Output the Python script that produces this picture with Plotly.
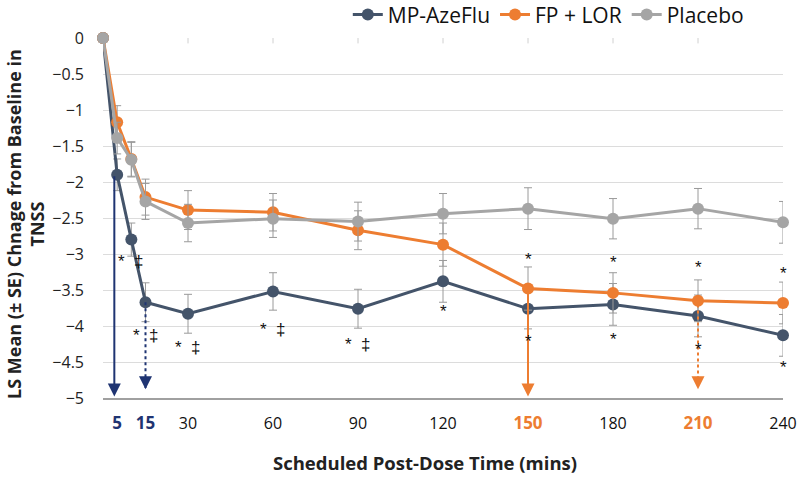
import plotly.graph_objects as go

# ---- data ----
times = [0, 5, 10, 15, 30, 60, 90, 120, 150, 180, 210, 240]
mp_azeflu = [0, -1.90, -2.80, -3.67, -3.83, -3.52, -3.76, -3.38, -3.76, -3.70, -3.86, -4.13]
mp_azeflu_se = [0, 0.22, 0.23, 0.27, 0.27, 0.26, 0.27, 0.29, 0.28, 0.29, 0.29, 0.29]
fp_lor = [0, -1.17, -1.68, -2.21, -2.39, -2.42, -2.67, -2.87, -3.48, -3.54, -3.65, -3.68]
fp_lor_se = [0, 0.23, 0.24, 0.25, 0.27, 0.26, 0.27, 0.30, 0.30, 0.28, 0.29, 0.29]
placebo = [0, -1.39, -1.69, -2.27, -2.57, -2.51, -2.55, -2.44, -2.37, -2.51, -2.37, -2.56]
placebo_se = [0, 0.22, 0.24, 0.25, 0.26, 0.26, 0.27, 0.28, 0.29, 0.28, 0.28, 0.29]

tick_vals = [5, 15, 30, 60, 90, 120, 150, 180, 210, 240]
tick_text = ["<b><span style='color:#1F3472;font-size:17px'>5</span></b>",
             "<b><span style='color:#1F3472;font-size:17px'>15</span></b>",
             "30", "60", "90", "120",
             "<b><span style='color:#ED7D31;font-size:17px'>150</span></b>",
             "180",
             "<b><span style='color:#ED7D31;font-size:17px'>210</span></b>",
             "240"]
y_ticks = [0, -0.5, -1, -1.5, -2, -2.5, -3, -3.5, -4, -4.5, -5]

# significance labels: (time, y, text)
sig_time = [10, 15, 30, 60, 90, 120, 150, 150, 180, 180, 210, 210, 240, 240]
sig_y = [-3.10, -4.13, -4.30, -4.05, -4.25, -3.80, -3.08, -4.21, -3.12, -4.19, -3.19, -4.32, -3.27, -4.58]
sig_text = ["*  ‡", "*  ‡", "*  ‡", "*  ‡", "*  ‡", "*", "*", "*", "*", "*", "*", "*", "*", "*"]

NAVY = "#44546A"
ORANGE = "#ED7D31"
GRAY = "#A5A5A5"
ARROW_NAVY = "#1F3472"
FONT = "Open Sans"
SYMF = "Liberation Sans"

fig = go.Figure()

def add_series(name, y, se, color):
    fig.add_trace(go.Scatter(
        x=times, y=y, name=name, mode="lines+markers",
        line=dict(color=color, width=3),
        marker=dict(color=color, size=12),
        error_y=dict(type="data", array=se, color="#9A9A9A", thickness=1, width=4),
        cliponaxis=False,
    ))

add_series("MP-AzeFlu", mp_azeflu, mp_azeflu_se, NAVY)
add_series("FP + LOR", fp_lor, fp_lor_se, ORANGE)
add_series("Placebo", placebo, placebo_se, GRAY)

annotations = []
shapes = []

# arrows: (time, start value, colour, dotted)
arrow_specs = [
    (4, mp_azeflu[1], ARROW_NAVY, False),
    (times[3], mp_azeflu[3], ARROW_NAVY, True),
    (times[8], fp_lor[8], ORANGE, False),
    (times[10], fp_lor[10] - 0.05, ORANGE, True),
]
for t, y0, col, dotted in arrow_specs:
    tip = -4.98
    if dotted:
        shapes.append(dict(type="line", xref="x", yref="y", x0=t, x1=t, y0=y0, y1=tip + 0.12,
                           line=dict(color=col, width=2, dash="dot")))
        annotations.append(dict(x=t, y=tip + 0.1, xref="x", yref="y", ax=0, ay=-14,
                                text="", showarrow=True, arrowhead=2, arrowsize=1.3,
                                arrowwidth=2, arrowcolor=col, standoff=0))
    else:
        annotations.append(dict(x=t, y=tip, xref="x", yref="y", ax=t, ay=y0,
                                axref="x", ayref="y", text="", showarrow=True,
                                arrowhead=2, arrowsize=1.3, arrowwidth=2,
                                arrowcolor=col, standoff=0))

for t, y, txt in zip(sig_time, sig_y, sig_text):
    annotations.append(dict(x=t, y=y, xref="x", yref="y", text=txt, showarrow=False,
                            font=dict(family=SYMF, size=17, color="#111")))
annotations.append(dict(x=-2.4, y=-1.76, xref="x", yref="y", text="†  ‡", showarrow=False,
                        font=dict(family=SYMF, size=16, color="#111")))

# axis titles
annotations.append(dict(x=0.474, y=-0.178, xref="paper", yref="paper",
                        text="<b>Scheduled Post-Dose Time (mins)</b>", showarrow=False,
                        xanchor="center", yanchor="middle",
                        font=dict(family=FONT, size=18.5, color="#222")))
annotations.append(dict(x=-0.115, y=0.483, xref="paper", yref="paper",
                        text="<b>LS Mean (± SE) Chnage from Baseline in<br>TNSS</b>",
                        showarrow=False, textangle=-90, xanchor="center", yanchor="middle",
                        font=dict(family=FONT, size=18, color="#222")))

# small tick marks along the zero line
for t in tick_vals[2:-1]:
    shapes.append(dict(type="line", xref="x", yref="paper", x0=t, x1=t, y0=1, y1=0.985,
                       line=dict(color="#D0D0D0", width=1)))

fig.update_layout(
    width=797, height=478,
    margin=dict(l=103, r=14, t=38, b=80, autoexpand=False),
    plot_bgcolor="white", paper_bgcolor="white",
    font=dict(family=FONT, size=16, color="#222"),
    showlegend=True,
    legend=dict(orientation="h", x=0.36, y=1.064, xanchor="left", yanchor="middle",
                font=dict(family=FONT, size=21, color="#111"), itemwidth=30,
                bgcolor="rgba(0,0,0,0)", tracegroupgap=0),
    annotations=annotations,
    shapes=shapes,
)
fig.update_xaxes(range=[0, 240], tickvals=tick_vals, ticktext=tick_text,
                 showgrid=False, zeroline=False, showline=True, linecolor="#A0A0A0",
                 linewidth=2, ticks="", ticklabelstandoff=10,
                 tickfont=dict(family=FONT, size=16, color="#111"))
fig.update_yaxes(range=[-5, 0], tickvals=y_ticks, showgrid=True, gridcolor="#DCDCDC",
                 gridwidth=1, zeroline=False, showline=False, ticks="",
                 ticklabelstandoff=18, tickfont=dict(family=FONT, size=16, color="#222"))

fig.write_html("out.html", config={"displayModeBar": False},
               post_script="document.body.style.margin='0';document.body.style.overflow='hidden';")
